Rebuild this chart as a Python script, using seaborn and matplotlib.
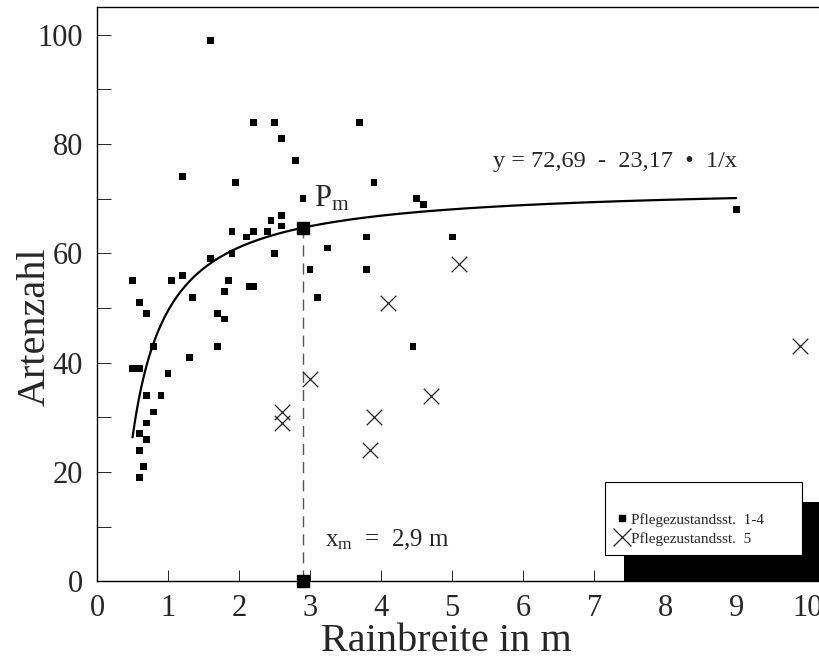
import numpy as np
import pandas as pd
import matplotlib
matplotlib.use("Agg")
import matplotlib.pyplot as plt
from matplotlib.patches import Rectangle
from matplotlib.lines import Line2D
from matplotlib.ticker import MultipleLocator
import seaborn as sns

# Pflegezustandsstufen 1-4: Rainbreite (m) und Artenzahl
rain_14 = [1.60, 2.20, 2.50, 2.60, 2.80, 1.20, 1.95, 2.90, 2.60, 2.45,
           2.60, 1.90, 2.10, 2.20, 2.40, 3.25, 0.50, 0.60, 0.70, 0.80,
           0.50, 0.60, 1.00, 1.30, 0.70, 0.90, 0.80, 0.70, 0.60, 0.70,
           0.60, 0.65, 0.60, 1.05, 1.20, 1.35, 1.60, 1.90, 2.50, 1.85,
           1.80, 2.15, 2.20, 1.70, 1.80, 1.70, 3.00, 3.10, 3.70, 3.90,
           4.50, 4.60, 3.80, 5.00, 3.80, 4.45, 9.00]
arten_14 = [99, 84, 84, 81, 77, 74, 73, 70, 67, 66,
            65, 64, 63, 64, 64, 61, 55, 51, 49, 43,
            39, 39, 38, 41, 34, 34, 31, 29, 27, 26,
            24, 21, 19, 55, 56, 52, 59, 60, 60, 55,
            53, 54, 54, 49, 48, 43, 57, 52, 84, 73,
            70, 69, 63, 63, 57, 43, 68]

# Pflegezustandsstufe 5
rain_5 = [2.60, 2.60, 3.00, 5.10, 4.10, 4.70, 3.90, 3.85, 9.90]
arten_5 = [31, 29, 37, 58, 51, 34, 30, 24, 43]

# Regressionsmodell y = a - b / x
coef_a = 72.69
coef_b = 23.17
fit_range = (0.5, 9.0)
x_m = 2.9

label_14 = "Pflegezustandsst.  1-4"
label_5 = "Pflegezustandsst.  5"

sns.set_style("ticks")
plt.rcParams["font.family"] = ["Liberation Serif", "DejaVu Serif"]
plt.rcParams["mathtext.fontset"] = "custom"
plt.rcParams["mathtext.rm"] = "Liberation Serif"
plt.rcParams["mathtext.it"] = "Liberation Serif:italic"
plt.rcParams["xtick.direction"] = "in"
plt.rcParams["ytick.direction"] = "in"

df14 = pd.DataFrame({"x": rain_14, "y": arten_14})
df5 = pd.DataFrame({"x": rain_5, "y": arten_5})
xs = np.linspace(fit_range[0], fit_range[1], 300)
dfit = pd.DataFrame({"x": xs, "y": coef_a - coef_b / xs})
y_m = coef_a - coef_b / x_m

fig = plt.figure(figsize=(8.2, 6.7), dpi=100)
ax = fig.add_axes([0.1183, 0.1321, 0.8817, 0.857])

sns.lineplot(data=dfit, x="x", y="y", ax=ax, color="black", linewidth=1.6,
             zorder=3, legend=False)
sns.scatterplot(data=df14, x="x", y="y", ax=ax, marker="s", s=24,
                color="black", edgecolor="none", linewidth=0, zorder=4)
sns.scatterplot(data=df5, x="x", y="y", ax=ax, marker="x", s=125,
                color="#222222", linewidth=0.9, zorder=4)

# Optimum P_m and its projection onto the x axis
ax.plot([x_m, x_m], [0, y_m], color="#555555", linewidth=1.0,
        dashes=(8, 5), zorder=2)
ax.plot([x_m], [y_m], marker="s", markersize=8, color="black", zorder=5)
ax.plot([x_m], [0], marker="s", markersize=8, color="black", zorder=5,
        clip_on=False)

eq = f"y = {coef_a:.2f}  -  {coef_b:.2f}  \u2022  1/x".replace(".", ",")
ax.text(5.58, 75.8, eq, fontsize=17.5, ha="left", va="baseline")
ax.text(x_m + 0.15, y_m + 3.8, r"$\mathrm{P}_{\mathrm{m}}$", fontsize=22,
        ha="left", va="baseline")
ax.text(x_m + 0.31, 6.4,
        r"$\mathrm{x}_{\mathrm{m}}$  =  " + f"{x_m:.1f} m".replace(".", ","),
        fontsize=18, ha="left", va="baseline")

ax.set_xlim(0, 10.18)
ax.set_ylim(0, 105)
ax.xaxis.set_major_locator(MultipleLocator(1))
ax.yaxis.set_major_locator(MultipleLocator(20))
ax.yaxis.set_minor_locator(MultipleLocator(10))
ax.tick_params(axis="x", which="major", length=8, width=0.7, labelsize=22,
               pad=9)
ax.tick_params(axis="y", which="both", length=10, width=0.7, labelsize=22,
               pad=10)
ax.spines["right"].set_visible(False)
for sp in ("left", "bottom", "top"):
    ax.spines[sp].set_linewidth(1.0)
    ax.spines[sp].set_color("black")

ax.set_xlabel("Rainbreite in m", fontsize=29)
ax.set_ylabel("Artenzahl", fontsize=29)
ax.xaxis.set_label_coords(0.483, -0.073)
ax.yaxis.set_label_coords(-0.06, 0.443)

# black block behind the legend box
ax.add_patch(Rectangle((0.729, 0.0), 0.3, 0.138, transform=ax.transAxes,
                       facecolor="black", edgecolor="none", zorder=6,
                       clip_on=False))

handles = [
    Line2D([], [], linestyle="none", marker="s", markersize=4.5,
           color="black"),
    Line2D([], [], linestyle="none", marker="x", markersize=13,
           markeredgewidth=0.9, color="#222222"),
]
leg = ax.legend(handles, [label_14, label_5], loc="upper left",
                bbox_to_anchor=(0.7026, 0.0378, 0.2725, 0.135),
                mode="expand", fontsize=11, frameon=True, fancybox=False,
                title=" ", title_fontsize=12, borderpad=0.6,
                labelspacing=0.35, handlelength=1.0, handletextpad=0.1,
                borderaxespad=0.0)
leg.get_frame().set_edgecolor("black")
leg.get_frame().set_linewidth(0.8)
leg.get_frame().set_facecolor("white")
leg.get_frame().set_alpha(1.0)
leg.set_zorder(7)

fig.savefig("out.png", dpi=100)
